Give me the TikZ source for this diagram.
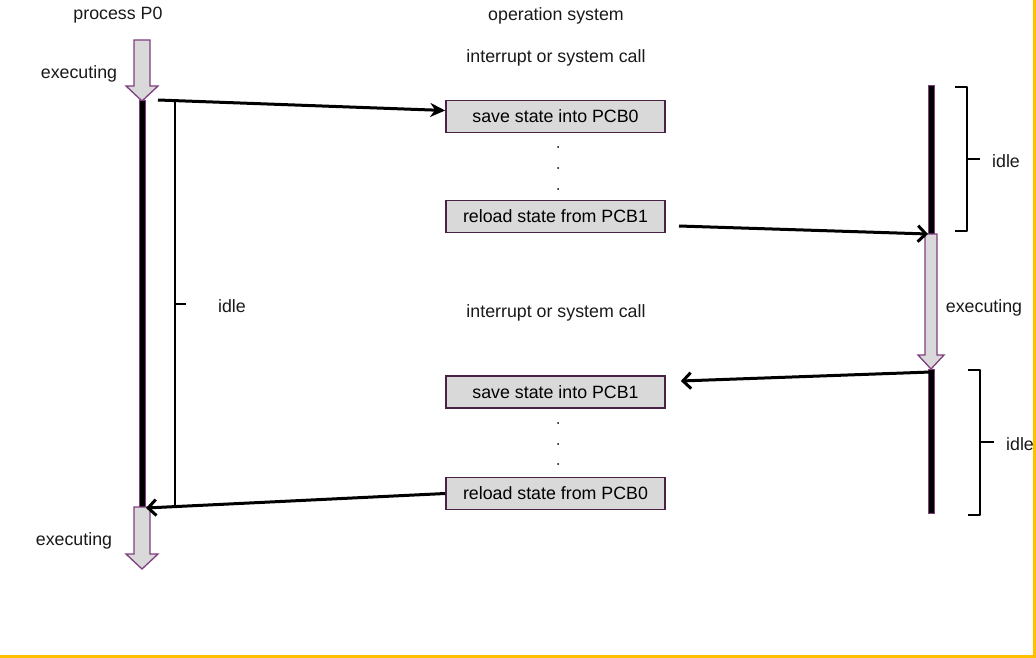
\documentclass[tikz,border=0pt]{standalone}
\usepackage{fontspec}
\setmainfont{Liberation Sans}
\usetikzlibrary{arrows.meta}
\definecolor{boxfill}{HTML}{D9D9D9}
\definecolor{boxline}{HTML}{4B2245}
\definecolor{purp}{HTML}{7F3F7F}
\definecolor{gold}{HTML}{FFC000}
\tikzset{
  lbl/.style={font=\fontsize{17.8}{20}\selectfont, inner sep=0pt, text=black!90},
  stepbox/.style={draw=boxline, fill=boxfill, line width=1.6pt, minimum width=219pt, minimum height=32pt, inner sep=0pt, font=\fontsize{17.8}{20}\selectfont},
  bar/.style={draw=purp, fill=black, line width=1pt},
  blockarrow/.style={draw=purp, fill=boxfill, line width=1.3pt, line join=miter},
  conn/.style={line width=3pt, -{Stealth[length=15pt,width=14pt]}},
  connb/.style={line width=3pt, -{Straight Barb[length=8pt,width=16pt,line width=3pt]}},
  brace/.style={line width=2.3pt, line join=round},
  dot/.style={circle, fill=black, inner sep=0pt, minimum size=2pt}
}
\begin{document}
\begin{tikzpicture}[x=1pt,y=-1pt]
\useasboundingbox (0,0) rectangle (1036,658);
% border lines
\draw[gold, line width=3pt] (0,656) -- (1034.5,656) -- (1034.5,0);

% titles
\node[lbl] (tp0) at (118,15.5) {process P0};
\node[lbl] (tos) at (556,15.5) {operation system};
\node[lbl] (int1) at (556,57.5) {interrupt or system call};
\node[lbl] (int2) at (556,312.5) {interrupt or system call};

% boxes
\node[stepbox] (b1) at (555.5,116.5) {save state into PCB0};
\node[stepbox] (b2) at (555.5,216.5) {reload state from PCB1};
\node[stepbox] (b3) at (555.5,392) {save state into PCB1};
\node[stepbox] (b4) at (555.5,493.5) {reload state from PCB0};
\node[dot] (d1) at (558,147) {};
\node[dot] (d2) at (558,168) {};
\node[dot] (d3) at (558,189) {};
\node[dot] (d4) at (558,423) {};
\node[dot] (d5) at (558,444) {};
\node[dot] (d6) at (558,464) {};

% left process
\draw[blockarrow] (134,40) -- (150,40) -- (150,86) -- (158,86) -- (142,101) -- (126,86) -- (134,86) -- cycle;
\filldraw[bar] (139,101) rectangle (145,507);
\draw[blockarrow] (134,507) -- (150,507) -- (150,554) -- (158,554) -- (142,569) -- (126,554) -- (134,554) -- cycle;
\node[lbl] (ex1) at (79,73.5) {executing};
\node[lbl] (ex2) at (74,540.5) {executing};
\node[lbl] (idl1) at (232,306) {idle};
\draw[brace] (175,101) -- (175,505);
\draw[brace] (175,304) -- (186,304);

% right process
\filldraw[bar] (928,86) rectangle (934,234);
\draw[blockarrow] (925,234) -- (937,234) -- (937,355) -- (944,355) -- (931,369) -- (918,355) -- (925,355) -- cycle;
\filldraw[bar] (928,369) rectangle (934,513);
\node[lbl] (ex3) at (984,307.5) {executing};
\node[lbl] (idl2) at (1006,161) {idle};
\node[lbl] (idl3) at (1020,444) {idle};
\draw[brace] (955,87) -- (967,87) -- (967,231) -- (955,231);
\draw[brace] (967,159) -- (980,159);
\draw[brace] (968,370) -- (980,370) -- (980,515) -- (968,515);
\draw[brace] (980,442) -- (994,442);

% connector end points
\coordinate (p0out) at (158,100);
\coordinate (p1in) at (928,234);
\coordinate (p1out) at (931,372);
\coordinate (p0in) at (146,508);
\coordinate (b2out) at (679,226);

\draw[conn] (p0out) -- ([yshift=6pt]b1.west);
\draw[connb] (b2out) -- (p1in);
\draw[connb] (p1out) -- ([xshift=15pt,yshift=11pt]b3.east);
\draw[connb] (b4.west) -- (p0in);
\end{tikzpicture}
\end{document}
